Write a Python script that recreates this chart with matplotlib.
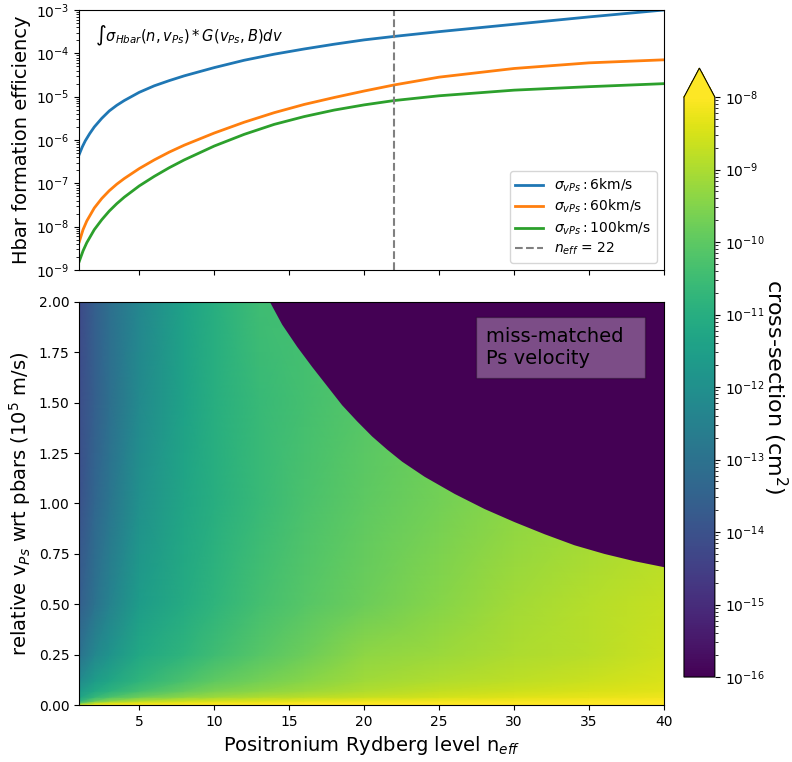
import numpy as np
import matplotlib.pyplot as plt
from matplotlib.colors import LogNorm

# ---- top panel: Hbar formation efficiency, log10 values ----
n_6kms = [1, 1.2, 1.4, 1.7, 2, 2.5, 3, 3.5, 4, 5, 6, 7, 8, 10, 12, 14, 16, 18, 20, 22,
          25, 30, 35, 40]
log_eff_6kms = [-6.33, -6.16, -6.02, -5.85, -5.70, -5.50, -5.33, -5.20, -5.09, -4.90,
                -4.75, -4.63, -4.52, -4.33, -4.16, -4.02, -3.90, -3.79, -3.69, -3.61,
                -3.50, -3.33, -3.16, -3.0]

n_slow = [1, 1.25, 1.5, 2, 2.5, 3, 3.5, 4, 5, 6, 7, 8, 10, 12, 14, 16, 18, 20, 22,
          25, 30, 35, 40]
log_eff_60kms = [-8.35, -8.07, -7.87, -7.57, -7.35, -7.17, -7.02, -6.89, -6.66, -6.46,
                 -6.28, -6.12, -5.84, -5.59, -5.37, -5.18, -5.02, -4.87, -4.73,
                 -4.55, -4.35, -4.22, -4.15]
log_eff_100kms = [-8.8, -8.56, -8.37, -8.07, -7.84, -7.64, -7.47, -7.32, -7.06, -6.84,
                  -6.64, -6.46, -6.14, -5.87, -5.64, -5.46, -5.31, -5.19, -5.09,
                  -4.98, -4.85, -4.77, -4.70]

labels = [r'$\sigma_{vPs}:$6km/s', r'$\sigma_{vPs}:$60km/s', r'$\sigma_{vPs}:$100km/s']
n_marker = 22

# ---- bottom panel: log10 cross-section (cm^2) on a coarse grid ----
n_nodes = [1, 2, 3, 5, 8, 10, 13, 16, 20, 25, 30, 35, 40]
v_nodes = [0.0, 0.01, 0.02, 0.04, 0.07, 0.12, 0.25, 0.5, 1.0, 1.5, 2.0]
cross_log10 = [
    [-8.2, -8.0, -8.0, -8.0, -8.0, -8.0, -8.0, -8.0, -8.0, -8.0, -8.0, -8.0, -8.0],
    [-10.0, -8.8, -8.5, -8.3, -8.2, -8.1, -8.1, -8.0, -8.0, -8.0, -8.0, -8.0, -8.0],
    [-10.9, -9.9, -9.4, -8.9, -8.6, -8.5, -8.4, -8.3, -8.2, -8.15, -8.1, -8.05, -8.0],
    [-11.4, -10.7, -10.3, -9.8, -9.4, -9.2, -9.0, -8.85, -8.7, -8.55, -8.4, -8.3, -8.2],
    [-11.7, -11.2, -10.9, -10.4, -9.9, -9.6, -9.4, -9.2, -8.95, -8.75, -8.6, -8.5, -8.35],
    [-12.2, -11.6, -11.3, -10.8, -10.3, -10.0, -9.7, -9.45, -9.15, -8.95, -8.8, -8.65, -8.45],
    [-13.0, -12.3, -11.9, -11.2, -10.8, -10.5, -10.1, -9.8, -9.35, -9.2, -9.0, -8.85, -8.6],
    [-13.6, -13.0, -12.5, -11.6, -11.1, -10.8, -10.4, -10.1, -9.8, -9.45, -9.1, -8.9, -8.7],
    [-14.0, -13.4, -12.9, -12.0, -11.3, -11.0, -10.6, -10.3, -10.0, -9.7, -9.4, -9.2, -9.0],
    [-14.1, -13.6, -13.1, -12.2, -11.4, -11.0, -10.6, -10.4, -10.1, -9.8, -9.5, -9.3, -9.1],
    [-14.2, -13.6, -13.1, -12.3, -11.4, -11.0, -10.5, -10.4, -10.1, -9.8, -9.5, -9.3, -9.1],
]

# edge of the "miss-matched" region (above it the cross-section is ~0)
n_edge = [13.7, 14.5, 15.5, 16.5, 17.5, 18.5, 19.5, 20.5, 21.5, 22.5, 24, 26, 28, 30,
          32, 34, 36, 38, 40]
v_edge = [2.0, 1.89, 1.78, 1.68, 1.585, 1.49, 1.41, 1.335, 1.27, 1.21, 1.135, 1.05,
          0.975, 0.91, 0.85, 0.795, 0.752, 0.716, 0.686]

x_ticks = [5, 10, 15, 20, 25, 30, 35, 40]
v_ticks = [0.0, 0.25, 0.5, 0.75, 1.0, 1.25, 1.5, 1.75, 2.0]

fig = plt.figure(figsize=(7.92, 7.62), dpi=100)
ax1 = fig.add_axes([0.1001, 0.6457, 0.7383, 0.3412])
ax2 = fig.add_axes([0.1001, 0.0748, 0.7383, 0.5289])
cax = fig.add_axes([0.8636, 0.1115, 0.039, 0.7992])

# top panel
ax1.plot(n_6kms, 10 ** np.array(log_eff_6kms), lw=2, label=labels[0])
ax1.plot(n_slow, 10 ** np.array(log_eff_60kms), lw=2, label=labels[1])
ax1.plot(n_slow, 10 ** np.array(log_eff_100kms), lw=2, label=labels[2])
ax1.axvline(n_marker, color='gray', ls='--', lw=1.5, label=r'$n_{eff}$ = %d' % n_marker)
ax1.set_yscale('log')
ax1.set_ylim(1e-9, 1e-3)
ax1.set_xlim(1, 40)
ax1.set_xticks(x_ticks)
ax1.tick_params(labelbottom=False, labelsize=10)
ax1.set_ylabel('Hbar formation efficiency', fontsize=14)
ax1.text(0.027, 0.945, r'$\int\sigma_{Hbar}(n,v_{Ps}) * G(v_{Ps},B)dv$',
         transform=ax1.transAxes, fontsize=10.5, va='top')
ax1.legend(loc='lower right', fontsize=10, labelspacing=0.3)

# bottom panel
cmap = plt.get_cmap('viridis')
mesh = ax2.pcolormesh(n_nodes, v_nodes, 10 ** np.array(cross_log10), shading='gouraud',
                      cmap=cmap, norm=LogNorm(vmin=1e-16, vmax=1e-8))
ax2.fill_between(n_edge, v_edge, 2.0, color=cmap(0.0), lw=0, zorder=2)
ax2.set_xlim(1, 40)
ax2.set_ylim(0, 2)
ax2.set_xticks(x_ticks)
ax2.set_yticks(v_ticks)
ax2.set_yticklabels(['%.2f' % v for v in v_ticks])
ax2.tick_params(labelsize=10)
ax2.set_xlabel('Positronium Rydberg level n$_{eff}$', fontsize=14)
ax2.set_ylabel('relative v$_{Ps}$ wrt pbars (10$^5$ m/s)', fontsize=14)
ax2.text(28.1, 1.875, 'miss-matched  \nPs velocity', fontsize=14, va='top', zorder=3,
         bbox=dict(facecolor='white', alpha=0.3, pad=7))

cbar = fig.colorbar(mesh, cax=cax, extend='max')
cbar.ax.tick_params(labelsize=10)
cbar.set_label('cross-section (cm$^2$)', fontsize=16, rotation=270, va='center')
cbar.ax.yaxis.set_label_coords(2.94, 0.5)

fig.savefig('out.png', dpi=100)
